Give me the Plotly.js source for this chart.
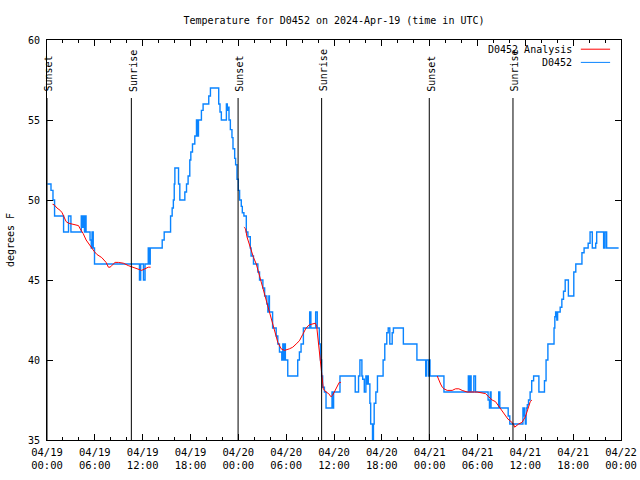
<!DOCTYPE html>
<html><head><meta charset="utf-8">
<script src="https://cdn.plot.ly/plotly-3.0.1.min.js"></script>
<style>html,body{margin:0;padding:0;background:#fff}</style>
</head><body>
<div id="chart" style="width:640px;height:480px"></div>
<script>
// Hours since 2024-04-19 00:00 UTC
const stationHours = [0.05,0.5,0.75,0.95,2.08,2.7,3.0,4.3,4.45,4.55,4.7,4.8,4.9,5.4,5.55,5.65,5.8,5.96,
  11.6,11.75,12.1,12.3,12.7,12.85,12.95,14.45,14.7,15.5,15.7,15.85,15.96,16.04,16.5,16.66,17.29,17.5,17.7,17.91,18.04,18.25,18.54,18.75,18.9,19.0,19.37,19.58,20.29,20.5,21.54,21.7,21.87,22.5,22.62,22.75,22.83,23.0,23.2,23.33,23.54,23.66,23.83,
  24.0,24.16,24.37,24.5,24.7,25.0,25.2,25.5,25.6,25.9,26.45,26.66,27.08,27.3,27.58,27.7,27.83,27.9,28.3,28.75,28.95,29.16,29.45,29.58,29.7,29.8,29.9,30.2,31.45,31.66,31.87,32.16,32.95,33.1,33.7,33.9,34.16,34.3,34.45,34.58,34.8,35.0,35.75,35.83,35.95,36.75,
  38.66,39.08,39.25,39.5,39.6,39.8,40.0,40.08,40.2,40.3,40.5,40.6,40.83,40.95,41.04,41.25,41.45,42.16,42.37,42.62,42.8,43.0,43.3,43.45,44.7,46.4,47.5,47.6,47.85,47.95,48.04,49.79,
  52.85,53.0,53.1,53.2,53.54,53.75,55.33,55.5,55.6,55.7,56.66,56.8,57.85,58.05,
  59.7,59.87,60.0,60.1,60.25,60.4,60.6,60.8,61.04,61.7,62.4,62.6,62.83,63.6,63.7,63.8,63.95,64.05,64.37,64.58,64.79,65.0,65.4,66.08,66.33,67.1,67.37,67.88,68.12,68.4,68.83,68.95,69.82,70.0,70.2,71.7];
const stationTemps = [51,50.6,50,49,48,49,48,49,48.3,49,48,49,48,47.5,47,48,47,46,
  45,46,45,46,47,46,47,47.5,48,49,49.5,50,51,52,51,50,50.5,51,51.5,52.5,53,53.5,54,55,54,55,55.6,56,56.5,57,56,55.5,55,56,55.6,55.8,55,54.4,53.9,53.2,52.6,52.2,51.3,
  50.6,50,49.6,49.2,49,48,47.7,47,46.5,46,45.5,45,44.5,44,43.5,43,44,43,42,41.5,41,40.5,40,41,40,41,40,39,40,40.5,41,42,43,42,43,42,41,40,39,38.3,38,37,38,37,38,39,
  38,39,40,39,38.8,38,39,38.5,39,38.5,37.3,36,35,36,37.3,38,39,40,41,41.7,42,41,41.7,42,41,40,39,40,39,40,39,38,
  39,38,39,38,39,38,37.5,37,38,37,38,37,36.5,36,
  37,36.5,36,37,37.2,37.5,38,38.7,39,38,38.7,40,41,42,42.7,43,42.5,43,43.3,43.8,44.3,45,44,45.5,46,46.7,47,47.3,48,47,47.3,48,47,48,47,47];

const analysisHours = [0.7,0.9,1.25,1.66,1.9,2.16,2.4,2.7,3.16,3.66,3.95,4.16,4.54,4.91,5.16,5.62,5.9,6.25,6.87,7.41,7.7,7.91,8.12,8.54,8.95,9.58,10.2,10.83,11.45,11.87,12.29,12.7,13.0,
  13.1,
  24.7,24.91,25.08,25.33,25.62,25.91,26.25,26.58,26.87,27.08,27.5,27.83,28.12,28.33,28.54,28.75,28.95,29.37,29.79,30.41,30.83,31.25,31.66,32.08,32.5,32.91,33.33,33.66,33.83,33.95,34.16,34.25,34.41,34.58,34.66,35.0,35.33,35.62,35.83,36.04,36.25,36.45,36.66,36.87,
  37.0,
  48.95,49.16,49.37,49.58,49.79,50.2,50.83,51.25,51.66,52.08,52.7,53.95,55.0,55.41,55.83,56.25,56.66,57.08,57.5,57.83,58.12,58.54,58.66,59.16,59.58,59.79,60.0,60.2,60.41,60.62,60.83];
const analysisTemps = [49.73,49.7,49.5,49.35,49.2,48.9,48.65,48.55,48.5,48.42,48.4,48.2,47.9,47.5,47.3,47.0,46.8,46.6,46.4,46.1,45.8,45.8,45.9,46.1,46.1,46.05,45.9,45.8,45.7,45.6,45.7,45.8,45.8,
  null,
  48.3,48.2,47.7,47.3,46.8,46.4,46.0,45.4,44.8,44.5,43.7,43.1,42.7,42.3,41.9,41.5,41.1,40.7,40.6,40.7,40.8,41.0,41.2,41.6,42.0,42.2,42.25,42.3,42.1,41.5,40.9,40.3,39.5,38.6,38.2,38.0,37.9,37.7,37.8,38.0,38.2,38.4,38.6,38.6,
  null,
  39.0,38.7,38.5,38.3,38.2,38.1,38.1,38.2,38.2,38.1,38.0,38.0,37.9,37.7,37.5,37.4,37.1,36.8,36.5,36.3,36.2,35.97,35.8,36.0,36.1,36.25,36.45,36.75,37.1,37.4,37.5];

const eventNames = ['Sunset','Sunrise','Sunset','Sunrise','Sunset','Sunrise'];
const eventHours = [0.0,10.58,23.97,34.45,47.95,58.45];

const tickHours = [0,6,12,18,24,30,36,42,48,54,60,66,72];
const tickLabels = ['04/19<br>00:00','04/19<br>06:00','04/19<br>12:00','04/19<br>18:00',
  '04/20<br>00:00','04/20<br>06:00','04/20<br>12:00','04/20<br>18:00',
  '04/21<br>00:00','04/21<br>06:00','04/21<br>12:00','04/21<br>18:00','04/22<br>00:00'];

const base = Date.UTC(2024,3,19,0,0,0);
function toDate(h){
  if(h===null) return null;
  return new Date(base + Math.round(h*3600000)).toISOString().slice(0,19).replace('T',' ');
}

const FONT = 'DejaVu Sans Mono, monospace';
const BLUE = '#0a84ff';

const traces = [
  {x: stationHours.map(toDate), y: stationTemps, type:'scatter', mode:'lines', name:'D0452',
   line:{color:BLUE, width:1.4, shape:'hv'}, showlegend:false},
  {x: analysisHours.map(toDate), y: analysisTemps, type:'scatter', mode:'lines', name:'D0452 Analysis',
   line:{color:'#ff0000', width:1}, connectgaps:false, showlegend:false}
];

const shapes = eventHours.map(h => ({type:'line', xref:'x', yref:'paper', x0:toDate(h), x1:toDate(h),
  y0:0, y1:0.855, line:{color:'#000', width:1}}));
const annotations = eventHours.map((h,i) => ({xref:'x', yref:'paper', x:toDate(h), y:0.866,
  text:eventNames[i], textangle:-90, showarrow:false, xanchor:'center', yanchor:'bottom', xshift:2,
  font:{family:FONT, size:10, color:'#000'}}));

// legend (gnuplot style: text then sample on the right)
const legendNames = ['D0452 Analysis','D0452'];
const legendColors = ['#ff0000', BLUE];
const legendY = [0.977, 0.944];
legendNames.forEach((n,i) => {
  annotations.push({xref:'paper', yref:'paper', x:0.9187, y:legendY[i], text:n, showarrow:false,
    xanchor:'right', yanchor:'middle', font:{family:FONT, size:10, color:'#000'}});
  shapes.push({type:'line', xref:'paper', yref:'paper', x0:0.930, x1:0.981, y0:legendY[i], y1:legendY[i],
    line:{color:legendColors[i], width:1}});
});

const layout = {
  width:640, height:480,
  margin:{l:47, r:19, t:40, b:40, pad:0},
  paper_bgcolor:'#fff', plot_bgcolor:'#fff',
  font:{family:FONT, size:10, color:'#000'},
  title:{text:'Temperature for D0452 on 2024-Apr-19 (time in UTC)', xref:'paper', x:0.5, xanchor:'center',
    yref:'container', y:0.958, yanchor:'middle', font:{family:FONT, size:10, color:'#000'}},
  xaxis:{type:'date', range:[toDate(0), toDate(72)], tickmode:'array', tickvals:tickHours.map(toDate), ticktext:tickLabels,
    ticks:'inside', ticklen:6, tickcolor:'#000', showline:true, linecolor:'#000', linewidth:1, mirror:'ticks',
    showgrid:false, zeroline:false, ticklabelstandoff:2, tickfont:{family:FONT, size:10.5, color:'#000'},
    minor:{tickmode:'linear', tick0:toDate(0), dtick:7200000, ticks:'inside', ticklen:3, tickcolor:'#000', showgrid:false}},
  yaxis:{range:[35,60], tickmode:'linear', tick0:35, dtick:5, ticks:'inside', ticklen:6, tickcolor:'#000',
    showline:true, linecolor:'#000', linewidth:1, mirror:'ticks', showgrid:false, zeroline:false,
    ticklabelstandoff:4, tickfont:{family:FONT, size:10, color:'#000'},
    title:{text:'degrees F', standoff:11, font:{family:FONT, size:10, color:'#000'}}},
  shapes:shapes, annotations:annotations, showlegend:false
};

Plotly.newPlot('chart', traces, layout, {staticPlot:true, displayModeBar:false});
</script>
</body></html>
